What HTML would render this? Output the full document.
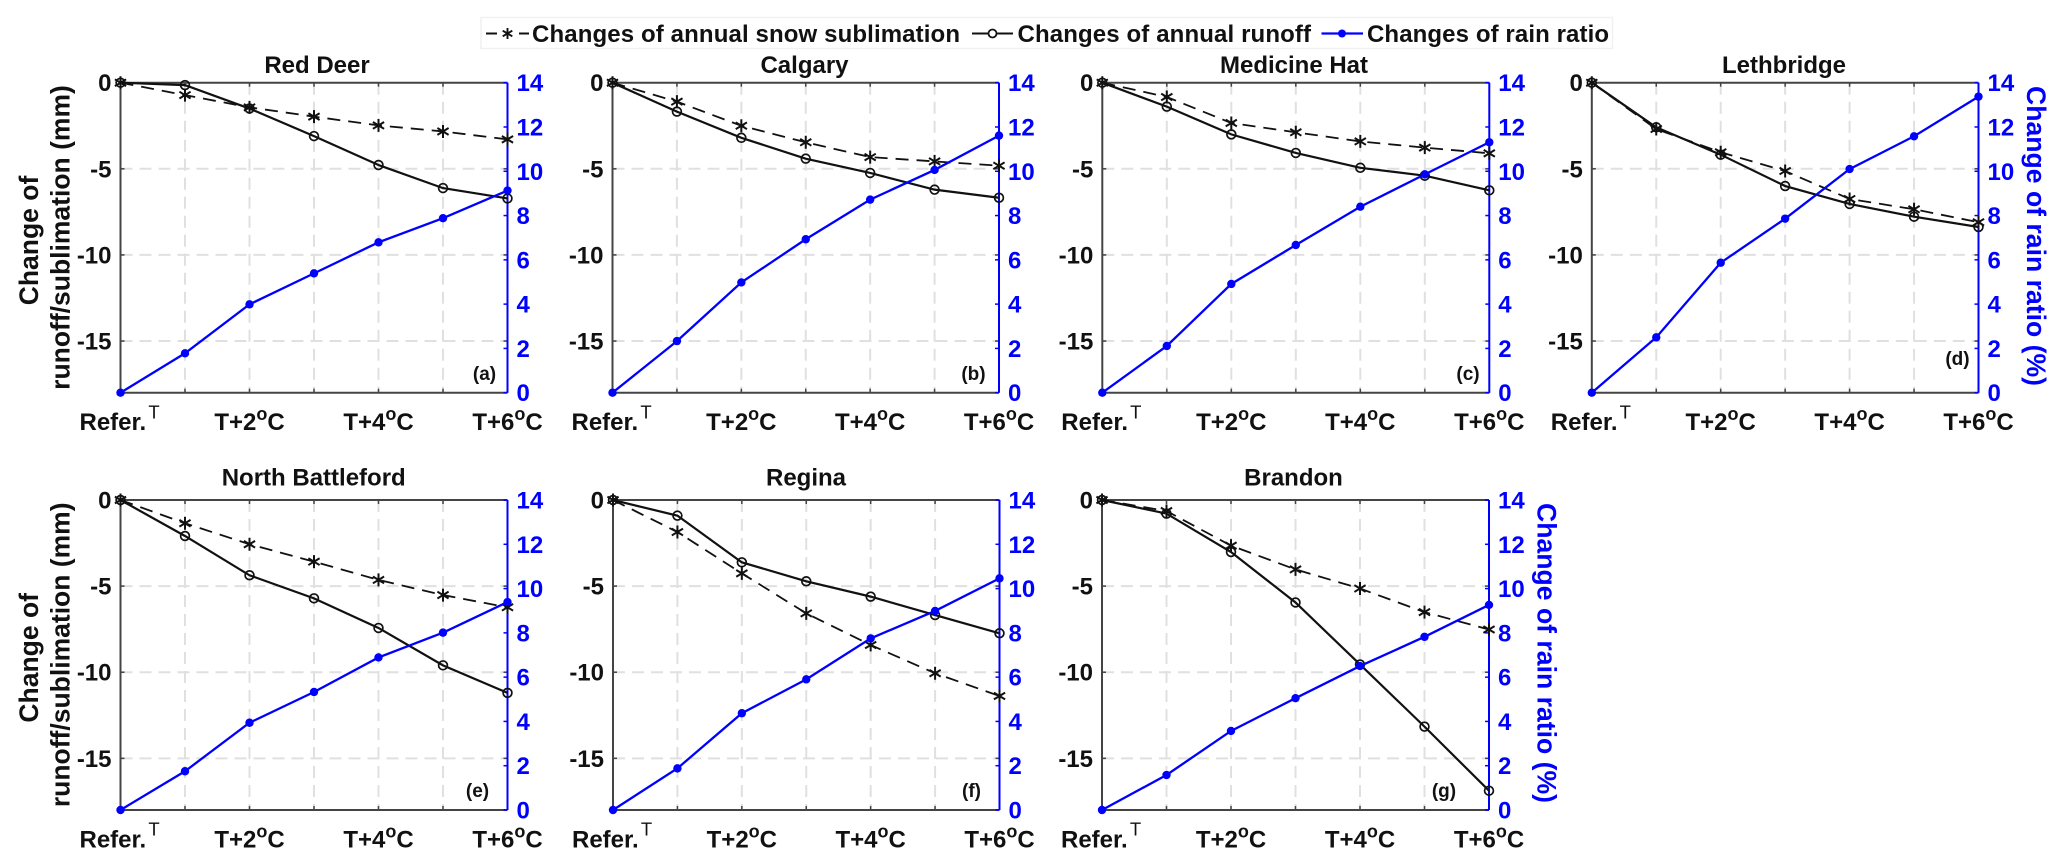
<!DOCTYPE html>
<html lang="en">
<head>
<meta charset="utf-8">
<title>Changes of snow sublimation, runoff and rain ratio</title>
<style>
html,body{margin:0;padding:0;background:#fff;width:2067px;height:867px;overflow:hidden}
svg{display:block}
text{font-family:"Liberation Sans",Arial,sans-serif;font-weight:bold;fill:#111}
.title{font-size:24px;text-anchor:middle}
.letter{font-size:19px;text-anchor:middle}
.ylab{font-size:26.5px;text-anchor:middle}
.rlab{font-size:26.6px;text-anchor:middle;fill:#0000ff}
.leg{font-size:24px}
</style>
</head>
<body>
<svg id="chart" xmlns="http://www.w3.org/2000/svg" width="2067" height="867" viewBox="0 0 2067 867">
  <rect width="2067" height="867" fill="#ffffff"/>

  <g>
    <rect x="481" y="17.5" width="1131.5" height="31" fill="#fff" stroke="#f1f1f1" stroke-width="1.5"/>
    <g>
      <line x1="486" y1="33.5" x2="497" y2="33.5" stroke="#111" stroke-width="2"/>
      <line x1="519" y1="33.5" x2="529" y2="33.5" stroke="#111" stroke-width="2"/>
      <path d="M507.5 28V39M502.7 30.7L512.3 36.3M502.7 36.3L512.3 30.7" stroke="#111" stroke-width="1.9" fill="none"/>
      <text class="leg" x="532" y="42" textLength="428">Changes of annual snow sublimation</text>
    </g>
    <g>
      <line x1="972" y1="33.5" x2="1013" y2="33.5" stroke="#111" stroke-width="2"/>
      <circle cx="992.5" cy="33.5" r="4" fill="#fff" stroke="#111" stroke-width="1.8"/>
      <text class="leg" x="1017.5" y="42" textLength="293.5">Changes of annual runoff</text>
    </g>
    <g>
      <line x1="1321.5" y1="33.5" x2="1363" y2="33.5" stroke="#0000ff" stroke-width="2.2"/>
      <circle cx="1342" cy="33.5" r="4" fill="#0000ff"/>
      <text class="leg" x="1367" y="42" textLength="242">Changes of rain ratio</text>
    </g>
  </g>

  <g id="panel-a">
    <text class="title" x="317" y="73">Red Deer</text>
    <text class="letter" x="484.5" y="380">(a)</text>
  </g>
  <g id="panel-b">
    <text class="title" x="804.5" y="73">Calgary</text>
    <text class="letter" x="973.5" y="380">(b)</text>
  </g>
  <g id="panel-c">
    <text class="title" x="1294" y="73">Medicine Hat</text>
    <text class="letter" x="1468" y="380">(c)</text>
  </g>
  <g id="panel-d">
    <text class="title" x="1784" y="73">Lethbridge</text>
    <text class="letter" x="1957.5" y="365">(d)</text>
  </g>
  <g id="panel-e">
    <text class="title" x="313.7" y="485.5">North Battleford</text>
    <text class="letter" x="477.5" y="797">(e)</text>
  </g>
  <g id="panel-f">
    <text class="title" x="806" y="485.5">Regina</text>
    <text class="letter" x="971.5" y="797">(f)</text>
  </g>
  <g id="panel-g">
    <text class="title" x="1293.5" y="485.5">Brandon</text>
    <text class="letter" x="1444" y="797">(g)</text>
  </g>

  <g>
    <text class="ylab" transform="translate(38,240.5) rotate(-90)">Change of</text>
    <text class="ylab" transform="translate(69.5,237.5) rotate(-90)">runoff/sublimation (mm)</text>
  </g>
  <g>
    <text class="ylab" transform="translate(38,657.8) rotate(-90)">Change of</text>
    <text class="ylab" transform="translate(69.5,654.8) rotate(-90)">runoff/sublimation (mm)</text>
  </g>
  <text class="rlab" transform="translate(2027,236) rotate(90)">Change of rain ratio (%)</text>
  <text class="rlab" transform="translate(1537.5,653) rotate(90)">Change of rain ratio (%)</text>
</svg>

<script>
// Axis content
const scenarioIndex = [0, 1, 2, 3, 4, 5, 6];
const xTickLabels = ["Refer.", "", "T+2", "", "T+4", "", "T+6"];
const leftTicks = [0, -5, -10, -15];
const rightTicks = [0, 2, 4, 6, 8, 10, 12, 14];
const leftMin = -18;
const rightMax = 14;

// Values: snow sublimation (mm), runoff (mm), rain ratio (%)
const redDeerSnow = [0, -0.72, -1.43, -1.97, -2.48, -2.83, -3.29];
const redDeerRunoff = [0, -0.14, -1.5, -3.1, -4.78, -6.12, -6.72];
const redDeerRain = [0, 1.78, 3.99, 5.39, 6.79, 7.88, 9.13];

const calgarySnow = [0, -1.1, -2.5, -3.46, -4.32, -4.57, -4.82];
const calgaryRunoff = [0, -1.68, -3.2, -4.41, -5.24, -6.21, -6.68];
const calgaryRain = [0, 2.33, 4.98, 6.93, 8.72, 10.06, 11.61];

const medicineHatSnow = [0, -0.83, -2.34, -2.88, -3.41, -3.77, -4.1];
const medicineHatRunoff = [0, -1.39, -3.0, -4.08, -4.94, -5.4, -6.25];
const medicineHatRain = [0, 2.11, 4.91, 6.67, 8.4, 9.86, 11.31];

const lethbridgeSnow = [0, -2.69, -4.04, -5.13, -6.75, -7.35, -8.1];
const lethbridgeRunoff = [0, -2.59, -4.18, -6.0, -7.04, -7.78, -8.38];
const lethbridgeRain = [0, 2.5, 5.87, 7.86, 10.1, 11.58, 13.37];

const northBattlefordSnow = [0, -1.35, -2.57, -3.58, -4.64, -5.52, -6.23];
const northBattlefordRunoff = [0, -2.09, -4.37, -5.71, -7.43, -9.6, -11.2];
const northBattlefordRain = [0, 1.75, 3.94, 5.33, 6.89, 8.01, 9.39];

const reginaSnow = [0, -1.86, -4.26, -6.58, -8.42, -10.06, -11.38];
const reginaRunoff = [0, -0.91, -3.62, -4.72, -5.61, -6.68, -7.74];
const reginaRain = [0, 1.88, 4.37, 5.9, 7.75, 8.99, 10.46];

const brandonSnow = [0, -0.64, -2.65, -4.03, -5.14, -6.51, -7.52];
const brandonRunoff = [0, -0.79, -3.02, -5.95, -9.55, -13.16, -16.88];
const brandonRain = [0, 1.58, 3.57, 5.05, 6.5, 7.82, 9.26];

const panels = [
  { id: "panel-a", left: 120.5, right: 507.5, top: 82.7, bottom: 392.7, snow: redDeerSnow, runoff: redDeerRunoff, rain: redDeerRain },
  { id: "panel-b", left: 612.5, right: 999, top: 82.7, bottom: 392.7, snow: calgarySnow, runoff: calgaryRunoff, rain: calgaryRain },
  { id: "panel-c", left: 1102.3, right: 1489.3, top: 82.7, bottom: 392.7, snow: medicineHatSnow, runoff: medicineHatRunoff, rain: medicineHatRain },
  { id: "panel-d", left: 1591.8, right: 1978.5, top: 82.7, bottom: 392.7, snow: lethbridgeSnow, runoff: lethbridgeRunoff, rain: lethbridgeRain },
  { id: "panel-e", left: 120.5, right: 507.5, top: 500, bottom: 810, snow: northBattlefordSnow, runoff: northBattlefordRunoff, rain: northBattlefordRain },
  { id: "panel-f", left: 613, right: 999.5, top: 500, bottom: 810, snow: reginaSnow, runoff: reginaRunoff, rain: reginaRain },
  { id: "panel-g", left: 1102, right: 1489, top: 500, bottom: 810, snow: brandonSnow, runoff: brandonRunoff, rain: brandonRain }
];

const NS = "http://www.w3.org/2000/svg";
const BLUE = "#0000ff";
const INK = "#111111";
const AXIS = "#444444";
const GRID = "#e0e0e0";

function make(parent, tag) {
  const el = document.createElementNS(NS, tag);
  parent.appendChild(el);
  return el;
}

function addLine(parent, x1, y1, x2, y2, stroke, width, dash) {
  const el = make(parent, "line");
  el.setAttribute("x1", x1);
  el.setAttribute("y1", y1);
  el.setAttribute("x2", x2);
  el.setAttribute("y2", y2);
  el.setAttribute("stroke", stroke);
  el.setAttribute("stroke-width", width);
  if (dash) el.setAttribute("stroke-dasharray", dash);
  return el;
}

function addText(parent, x, y, str, size, anchor, fill) {
  const el = make(parent, "text");
  el.setAttribute("x", x);
  el.setAttribute("y", y);
  el.setAttribute("font-size", size);
  el.setAttribute("text-anchor", anchor);
  el.style.fill = fill;
  el.textContent = str;
  return el;
}

function drawPanel(p) {
  const g = document.getElementById(p.id);
  const xScale = i => p.left + i * (p.right - p.left) / 6;
  const yLeft = v => p.top + (v / leftMin) * (p.bottom - p.top);
  const yRight = v => p.bottom - (v / rightMax) * (p.bottom - p.top);
  const toPoints = (vals, yFn) => vals.map((v, i) => xScale(scenarioIndex[i]).toFixed(2) + "," + yFn(v).toFixed(2)).join(" ");

  // Gridlines
  scenarioIndex.slice(1, -1).forEach(i => {
    const grid = addLine(g, xScale(i), p.top, xScale(i), p.bottom, GRID, 2, "12 7");
    
    
  });
  leftTicks.slice(1).forEach(v => {
    const grid = addLine(g, p.left, yLeft(v), p.right, yLeft(v), GRID, 2, "12 7");
    
    
  });

  // Frame
  const topAxis = addLine(g, p.left, p.top, p.right, p.top, AXIS, 2);
  
  
  const bottomAxis = addLine(g, p.left, p.bottom, p.right, p.bottom, AXIS, 2);
  
  
  const leftAxis = addLine(g, p.left, p.top, p.left, p.bottom, AXIS, 2);
  
  

  // X ticks and labels
  scenarioIndex.forEach(i => {
    const tickB = addLine(g, xScale(i), p.bottom, xScale(i), p.bottom - 4, AXIS, 1.5);
    
    
    const tickT = addLine(g, xScale(i), p.top, xScale(i), p.top + 4, AXIS, 1.5);
    
    
    const label = xTickLabels[i];
    if (!label) return;
    const labelY = p.bottom + 37.5;
    if (i === 0) {
      const t = addText(g, p.left - 41, labelY, label, 24, "start", INK);
      
      
      const sup = addText(g, p.left + 33.5, p.bottom + 25.6, "T", 18.5, "middle", INK);
      sup.setAttribute("font-weight", "normal");
      sup.style.fontWeight = "normal";
      
      
    } else {
      const t = addText(g, xScale(i), labelY, label, 24, "middle", INK);
      
      
      const deg = make(t, "tspan");
      deg.setAttribute("font-size", "18");
      deg.setAttribute("dy", "-10");
      deg.textContent = "o";
      const unit = make(t, "tspan");
      unit.setAttribute("dy", "10");
      unit.textContent = "C";
    }
  });

  // Left ticks and labels
  leftTicks.forEach(v => {
    const y = yLeft(v);
    const tickL = addLine(g, p.left, y, p.left + 4, y, AXIS, 1.5);
    
    
    const tickR = addLine(g, p.right, y, p.right - 4, y, AXIS, 1.5);
    
    
    const t = addText(g, p.left - 9, y + 8.5, String(v), 24, "end", INK);
    
    
  });

  // Right axis
  const rightAxis = addLine(g, p.right, p.top, p.right, p.bottom, BLUE, 2);
  
  
  rightTicks.forEach(v => {
    const y = yRight(v);
    const tick = addLine(g, p.right, y, p.right - 4, y, BLUE, 1.5);
    
    
    const t = addText(g, p.right + 9, y + 8.5, String(v), 24, "start", BLUE);
    
    
  });

  // Snow sublimation series
  const snowLine = make(g, "polyline");
  snowLine.setAttribute("points", toPoints(p.snow, yLeft));
  snowLine.setAttribute("fill", "none");
  snowLine.setAttribute("stroke", INK);
  snowLine.setAttribute("stroke-width", "1.8");
  snowLine.setAttribute("stroke-dasharray", "13 8");
  
  
  p.snow.forEach((v, i) => {
    const cx = xScale(scenarioIndex[i]);
    const cy = yLeft(v);
    const star = make(g, "path");
    star.setAttribute("d", "M" + cx + " " + (cy - 6.5) + "V" + (cy + 6.5) +
      "M" + (cx - 5.6) + " " + (cy - 3.4) + "L" + (cx + 5.6) + " " + (cy + 3.4) +
      "M" + (cx - 5.6) + " " + (cy + 3.4) + "L" + (cx + 5.6) + " " + (cy - 3.4));
    star.setAttribute("fill", "none");
    star.setAttribute("stroke", INK);
    star.setAttribute("stroke-width", "2");
    
    
  });

  // Runoff series
  const runoffLine = make(g, "polyline");
  runoffLine.setAttribute("points", toPoints(p.runoff, yLeft));
  runoffLine.setAttribute("fill", "none");
  runoffLine.setAttribute("stroke", INK);
  runoffLine.setAttribute("stroke-width", "2.2");
  
  
  p.runoff.forEach((v, i) => {
    const dot = make(g, "circle");
    dot.setAttribute("cx", xScale(scenarioIndex[i]));
    dot.setAttribute("cy", yLeft(v));
    dot.setAttribute("r", "4.4");
    dot.setAttribute("fill", "none");
    dot.setAttribute("stroke", INK);
    dot.setAttribute("stroke-width", "1.7");
    
    
  });

  // Rain ratio series
  const rainLine = make(g, "polyline");
  rainLine.setAttribute("points", toPoints(p.rain, yRight));
  rainLine.setAttribute("fill", "none");
  rainLine.setAttribute("stroke", BLUE);
  rainLine.setAttribute("stroke-width", "2.3");
  
  
  p.rain.forEach((v, i) => {
    const dot = make(g, "circle");
    dot.setAttribute("cx", xScale(scenarioIndex[i]));
    dot.setAttribute("cy", yRight(v));
    dot.setAttribute("r", "4.2");
    dot.setAttribute("fill", BLUE);
    
    
  });
}

panels.forEach(drawPanel);
</script>
</body>
</html>
